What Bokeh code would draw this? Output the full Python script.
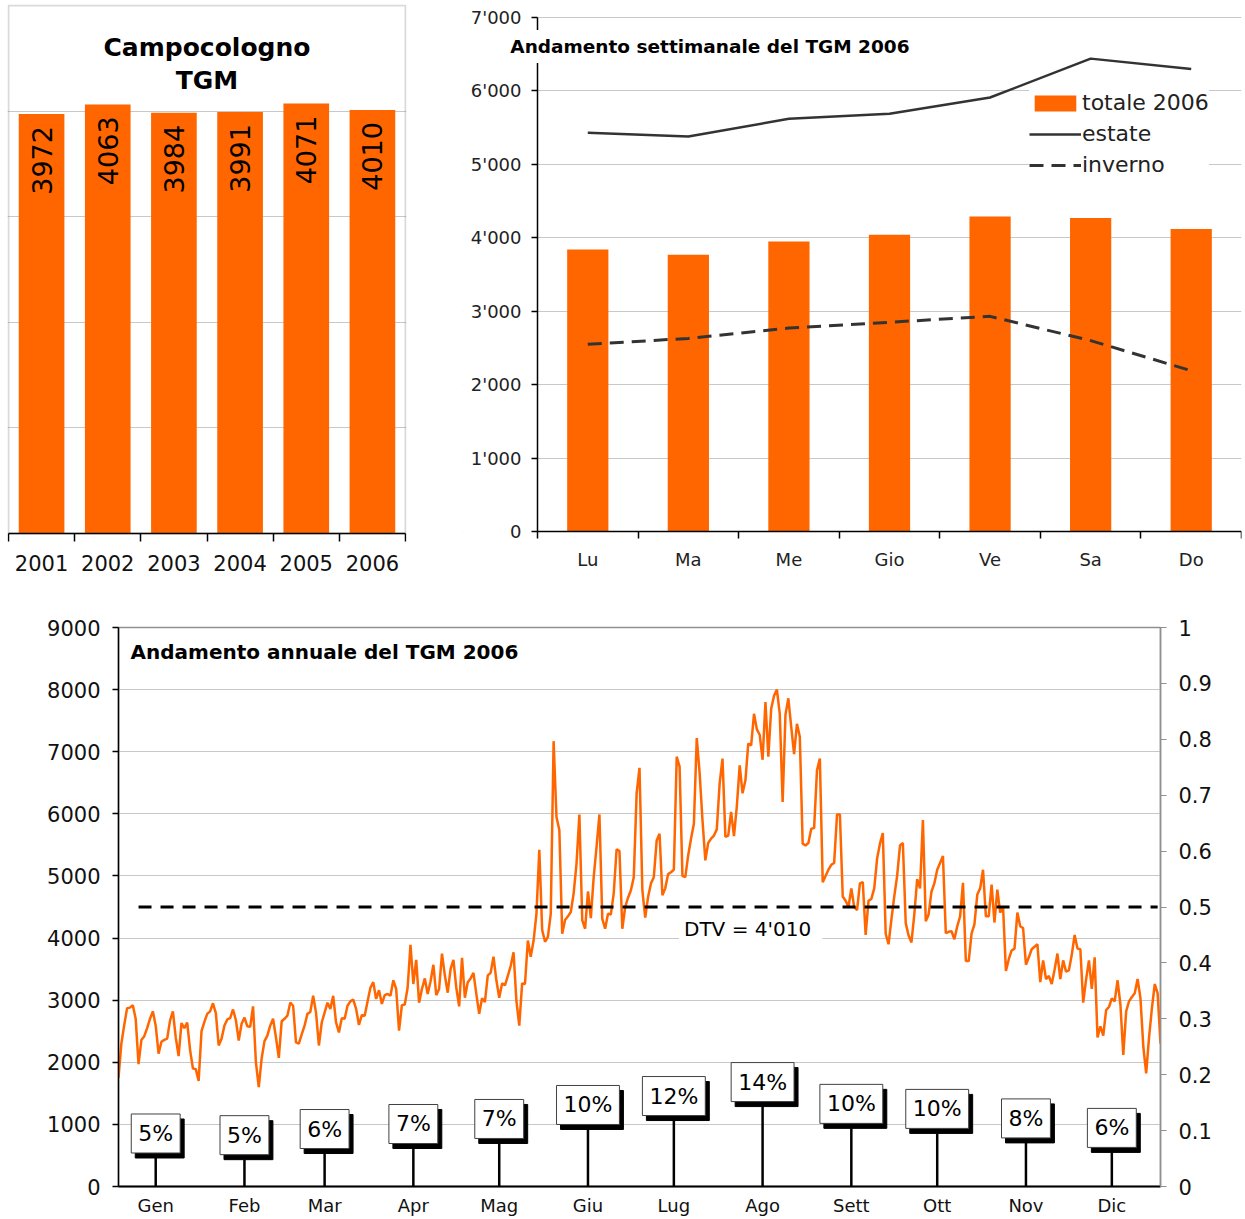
import numpy as np
from bokeh.plotting import figure
from bokeh.layouts import column, row
from bokeh.models import (ColumnDataSource, FixedTicker, Range1d, LinearAxis, Label,
                          Legend, LegendItem, NumeralTickFormatter, BoxAnnotation)
from bokeh.embed import file_html
from bokeh.resources import INLINE
from bokeh.core.properties import value

FONT = "DejaVu Sans"
ORANGE = "#FF6600"
GRID = "#C8C8C8"
DARK = "#333333"

# ---------------- data ----------------
years = ["2001", "2002", "2003", "2004", "2005", "2006"]
tgm_years = [3972, 4063, 3984, 3991, 4071, 4010]
year_grid = [1000, 2000, 3000, 4000]

week_days = ["Lu", "Ma", "Me", "Gio", "Ve", "Sa", "Do"]
week_total = [3840, 3770, 3950, 4040, 4290, 4270, 4120]
week_estate = [5430, 5380, 5620, 5690, 5910, 6440, 6300]
week_inverno = [2550, 2630, 2770, 2850, 2930, 2600, 2190]
week_yticks = [0, 1000, 2000, 3000, 4000, 5000, 6000, 7000]
week_ylabels = ["0", "1'000", "2'000", "3'000", "4'000", "5'000", "6'000", "7'000"]

month_names = ["Gen", "Feb", "Mar", "Apr", "Mag", "Giu", "Lug", "Ago", "Sett", "Ott", "Nov", "Dic"]
month_days = [31, 28, 31, 30, 31, 30, 31, 31, 30, 31, 30, 31]
month_share = [0.051, 0.048, 0.059, 0.068, 0.077, 0.102, 0.118, 0.143, 0.104, 0.095, 0.078, 0.061]
month_share_labels = ["5%", "5%", "6%", "7%", "7%", "10%", "12%", "14%", "10%", "10%", "8%", "6%"]

day_yticks = [0, 1000, 2000, 3000, 4000, 5000, 6000, 7000, 8000, 9000]
pct_ticks = [0, 0.1, 0.2, 0.3, 0.4, 0.5, 0.6, 0.7, 0.8, 0.9, 1]
dtv_level = 0.5
dtv_text = "DTV  = 4'010"

traffic_gen = [1750, 2300, 2600, 2870, 2880, 2920, 2700, 1970, 2360, 2420, 2550, 2700, 2820, 2590,
               2140, 2330, 2360, 2380, 2670, 2820, 2400, 2100, 2630, 2550, 2640, 2200, 1900, 1890,
               1700, 2500, 2650]
traffic_feb = [2780, 2820, 2950, 2790, 2270, 2380, 2590, 2690, 2710, 2850, 2680, 2350, 2620, 2720,
               2580, 2570, 2900, 2000, 1600, 2060, 2340, 2430, 2590, 2700, 2400, 2070, 2660, 2700]
traffic_mar = [2750, 2960, 2910, 2320, 2300, 2450, 2590, 2780, 2810, 3070, 2800, 2270, 2640, 2800,
               2960, 2860, 3070, 2640, 2480, 2710, 2700, 2910, 2980, 3010, 2860, 2600, 2760, 2750,
               2980, 3200, 3290]
traffic_apr = [3020, 3160, 2940, 3080, 3100, 3070, 3320, 3180, 2510, 2920, 2930, 3200, 3890, 3260,
               3650, 2960, 3180, 3350, 3100, 3300, 3570, 3080, 3180, 3750, 3400, 3120, 3500, 3650,
               3200, 2900]
traffic_mag = [3680, 3040, 3290, 3350, 3440, 3100, 2780, 3030, 2970, 3400, 3440, 3700, 3320, 3040,
               3270, 3240, 3390, 3550, 3770, 2990, 2590, 3270, 3260, 3960, 3700, 3960, 4390, 5420,
               4130, 3940, 4020]
traffic_giu = [4390, 7170, 5950, 5740, 4070, 4290, 4350, 4420, 4720, 5200, 5990, 4290, 4150, 4750,
               4320, 4980, 5470, 5990, 4310, 4150, 4390, 4380, 4720, 5430, 5400, 4150, 4500, 4650,
               4770, 4980]
traffic_lug = [6330, 6740, 4770, 4330, 4660, 4880, 4980, 5570, 5680, 4690, 4800, 5030, 5060, 5100,
               6920, 6760, 5000, 4980, 5330, 5600, 5840, 7220, 6660, 5900, 5250, 5530, 5600, 5650,
               5750, 6490, 6890]
traffic_ago = [5630, 5650, 6030, 5640, 6120, 6780, 6330, 6540, 7130, 7100, 7610, 7360, 7270, 6870,
               7800, 6920, 7690, 7900, 8000, 7610, 6190, 7600, 7860, 7400, 6960, 7450, 7240, 5520,
               5490, 5530, 5760]
traffic_set = [5770, 6700, 6890, 4900, 5000, 5100, 5180, 5210, 5990, 5990, 4670, 4600, 4500, 4800,
               4500, 4450, 4880, 4900, 4050, 4600, 4630, 4800, 5280, 5520, 5690, 4070, 3900, 4300,
               4670, 5000]
traffic_ott = [5490, 5530, 4240, 4040, 3930, 4380, 4950, 4800, 5900, 4270, 4380, 4750, 4880, 5100,
               5210, 5320, 4080, 4100, 4110, 3980, 4190, 4350, 4890, 3630, 3630, 4070, 4220, 4700,
               4800, 5100, 4350]
traffic_nov = [4350, 4860, 4250, 4780, 4410, 4500, 3470, 3660, 3800, 3830, 4410, 4190, 4160, 3570,
               3690, 3820, 3860, 3900, 3290, 3640, 3340, 3390, 3260, 3490, 3750, 3340, 3640, 3460,
               3480, 3730]
traffic_dic = [4050, 3830, 3820, 2960, 3330, 3640, 3180, 3690, 2400, 2580, 2430, 2840, 2890, 3030,
               2980, 3320, 2930, 2120, 2820, 2980, 3050, 3110, 3340, 3030, 2250, 1820, 2400, 2870,
               3260, 3110, 2300]

traffic = (traffic_gen + traffic_feb + traffic_mar + traffic_apr + traffic_mag + traffic_giu +
           traffic_lug + traffic_ago + traffic_set + traffic_ott + traffic_nov + traffic_dic)
days = list(range(len(traffic)))


def label(x, y, text, size, bold=False, align="left", baseline="middle", **kw):
    return Label(x=x, y=y, text=text, text_font=FONT, text_font_size=size,
                 text_font_style="bold" if bold else "normal", text_color="black",
                 text_align=align, text_baseline=baseline, **kw)


TOP_H = 585
TOP_BORDER = 4
BOTTOM_BORDER = 10

# ---------------- top left: yearly TGM ----------------
xi_years = list(range(len(years)))
p1 = figure(width=417, height=TOP_H, x_range=Range1d(-0.515, len(years) - 0.485),
            y_range=Range1d(-398, 5009.5),
            output_backend="svg", toolbar_location=None, y_axis_location=None,
            min_border_left=7, min_border_right=11, min_border_top=TOP_BORDER,
            min_border_bottom=BOTTOM_BORDER)
p1.outline_line_color = None
p1.xgrid.visible = False
p1.ygrid.ticker = FixedTicker(ticks=year_grid)
p1.ygrid.grid_line_color = GRID
p1.ygrid.grid_line_width = 1
p1.add_layout(BoxAnnotation(left=-0.5, right=len(years) - 0.5, bottom=0, top=5000,
                            fill_alpha=0, line_color="#858585", line_width=2, level="underlay"))
ax = p1.xaxis[0]
ax.fixed_location = 0
ax.bounds = (-0.5, len(years) - 0.5)
ax.ticker = FixedTicker(ticks=xi_years, minor_ticks=[i - 0.5 for i in range(len(years) + 1)])
ax.major_label_overrides = {i: y for i, y in zip(xi_years, years)}
ax.major_tick_out = 0
ax.major_tick_in = 0
ax.minor_tick_out = 8
ax.minor_tick_in = 0
ax.minor_tick_line_width = 1.5
ax.axis_line_width = 1.5
ax.major_label_text_font = FONT
ax.major_label_text_font_size = "21px"
ax.major_label_text_color = "#111111"
ax.major_label_standoff = 14

p1.vbar(x=xi_years, top=tgm_years, width=0.69, fill_color=ORANGE, line_color=None)
p1.text(x=xi_years, y=tgm_years, text=[str(v) for v in tgm_years], angle=np.pi / 2,
        text_align="right", text_baseline="middle", y_offset=12,
        text_font=value(FONT), text_font_size="27px", text_color="black")
mid = (len(years) - 1) / 2
p1.add_layout(label(mid, 4602, "Campocologno", "25px", bold=True, align="center"))
p1.add_layout(label(mid, 4290, "TGM", "25px", bold=True, align="center"))

# ---------------- top right: weekly ----------------
xi_week = list(range(len(week_days)))
p2 = figure(width=828, height=TOP_H, x_range=Range1d(-1.2457, len(week_days) - 0.5),
            y_range=Range1d(-599, 7177),
            output_backend="svg", toolbar_location=None,
            min_border_left=45, min_border_right=4, min_border_top=TOP_BORDER,
            min_border_bottom=BOTTOM_BORDER)
p2.outline_line_color = None
p2.xgrid.visible = False
p2.ygrid.grid_line_color = GRID
ya = p2.yaxis[0]
ya.fixed_location = -0.5
ya.bounds = (0, 7000)
ya.ticker = FixedTicker(ticks=week_yticks)
ya.major_label_overrides = dict(zip(week_yticks, week_ylabels))
ya.major_tick_out = 6
ya.major_tick_in = 0
ya.minor_tick_out = 0
ya.minor_tick_in = 0
ya.axis_line_width = 1.5
ya.major_tick_line_width = 1.5
ya.major_label_standoff = 10
ya.major_label_text_font = FONT
ya.major_label_text_font_size = "18px"
ya.major_label_text_color = "#222222"
xa = p2.xaxis[0]
xa.fixed_location = 0
xa.bounds = (-0.5, len(week_days) - 0.5)
xa.ticker = FixedTicker(ticks=xi_week, minor_ticks=[i - 0.5 for i in range(len(week_days) + 1)])
xa.major_label_overrides = {i: d for i, d in zip(xi_week, week_days)}
xa.major_tick_out = 0
xa.major_tick_in = 0
xa.minor_tick_out = 7
xa.minor_tick_in = 0
xa.minor_tick_line_width = 1.5
xa.axis_line_width = 1.5
xa.major_label_standoff = 10
xa.major_label_text_font = FONT
xa.major_label_text_font_size = "18px"
xa.major_label_text_color = "#222222"

p2.add_layout(BoxAnnotation(right=-0.5, fill_color="white", fill_alpha=1, line_alpha=0, level="glyph"))
r_bar = p2.vbar(x=xi_week, top=week_total, width=0.41, fill_color=ORANGE, line_color=None)
r_est = p2.line(x=xi_week, y=week_estate, line_color=DARK, line_width=2.5)
r_inv = p2.line(x=xi_week, y=week_inverno, line_color=DARK, line_width=3, line_dash="14 8")
p2.add_layout(label(-0.83, 6605, "Andamento settimanale del TGM 2006", "18.5px", bold=True,
                    background_fill_color="white", padding=6))
leg = Legend(items=[LegendItem(label="totale 2006", renderers=[r_bar]),
                    LegendItem(label="estate", renderers=[r_est]),
                    LegendItem(label="inverno", renderers=[r_inv])],
             location=(567, 398), glyph_width=52, glyph_height=20, label_standoff=1,
             spacing=6, padding=5, margin=0, border_line_color=None,
             background_fill_color="white", background_fill_alpha=1,
             label_text_font=FONT, label_text_font_size="22px", label_text_color="#222222")
p2.add_layout(leg)

# ---------------- bottom: daily ----------------
month_start = np.cumsum([0] + month_days[:-1])
month_pos = [int(s) + 13 for s in month_start]

p3 = figure(width=1244, height=633, x_range=Range1d(0, len(traffic) - 1), y_range=Range1d(0, 9000),
            output_backend="svg", toolbar_location=None,
            min_border_left=118, min_border_right=84, min_border_top=42, min_border_bottom=30)
p3.extra_y_ranges = {"pct": Range1d(0, 1)}
p3.outline_line_color = "#909090"
p3.outline_line_width = 1.5
p3.xgrid.visible = False
p3.ygrid.grid_line_color = GRID
la = p3.yaxis[0]
la.ticker = FixedTicker(ticks=day_yticks)
la.major_tick_out = 6
la.major_tick_in = 0
la.minor_tick_out = 0
la.minor_tick_in = 0
la.axis_line_width = 1.5
la.major_tick_line_width = 1.5
la.major_label_standoff = 12
la.major_label_text_font = FONT
la.major_label_text_font_size = "21px"
la.major_label_text_color = "#111111"
ra = LinearAxis(y_range_name="pct", ticker=FixedTicker(ticks=pct_ticks),
                formatter=NumeralTickFormatter(format="0.[0]"))
ra.axis_line_color = "#909090"
ra.axis_line_width = 1.5
ra.major_tick_line_color = "#909090"
ra.major_tick_out = 6
ra.major_tick_in = 0
ra.minor_tick_out = 0
ra.minor_tick_in = 0
ra.major_label_standoff = 12
ra.major_label_text_font = FONT
ra.major_label_text_font_size = "21px"
ra.major_label_text_color = "#111111"
p3.add_layout(ra, "right")
ba = p3.xaxis[0]
ba.ticker = FixedTicker(ticks=month_pos)
ba.major_label_overrides = {m: n for m, n in zip(month_pos, month_names)}
ba.major_tick_out = 0
ba.major_tick_in = 0
ba.minor_tick_out = 0
ba.minor_tick_in = 0
ba.axis_line_width = 2
ba.major_label_standoff = 8
ba.major_label_text_font = FONT
ba.major_label_text_font_size = "18px"
ba.major_label_text_color = "#111111"

p3.line(x=days, y=traffic, line_color=ORANGE, line_width=2.5)
p3.line(x=[days[7], days[-2]], y=[dtv_level, dtv_level], y_range_name="pct",
        line_color="black", line_width=3, line_dash="13 9")
p3.add_layout(label(195.8, 4150, dtv_text, "20px", background_fill_color="white", padding=5))
p3.add_layout(label(4.2, 8600, "Andamento annuale del TGM 2006", "20px", bold=True))

p3.segment(x0=month_pos, y0=[0] * len(month_pos), x1=month_pos, y1=month_share,
           y_range_name="pct", line_color="black", line_width=2.5)
box_src = ColumnDataSource(dict(x=month_pos, y=month_share, text=month_share_labels))
p3.text(x="x", y="y", text="text", source=box_src, y_range_name="pct",
        anchor="bottom_center", x_offset=4, y_offset=0, padding=7,
        text_font=value(FONT), text_font_size="22px", text_color="black",
        background_fill_color="black", border_line_color="black")
p3.text(x="x", y="y", text="text", source=box_src, y_range_name="pct",
        anchor="bottom_center", x_offset=0, y_offset=-5, padding=7,
        text_font=value(FONT), text_font_size="22px", text_color="black",
        background_fill_color="white", border_line_color="#404040", border_line_width=1)

layout = column(row(p1, p2), p3)
open("out.html", "w").write(file_html(layout, INLINE))
